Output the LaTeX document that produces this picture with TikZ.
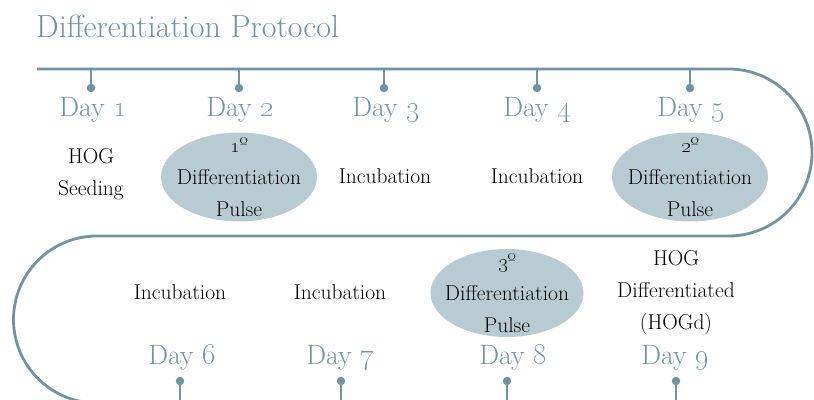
\documentclass[tikz,border=0pt]{standalone}
\usetikzlibrary{shapes.geometric,positioning}
\definecolor{steel}{HTML}{7194A5}
\definecolor{pulsefill}{HTML}{B9CBD2}
\tikzset{
	track/.style={draw=steel, line width=2.8pt},
	stem/.style={draw=steel, line width=2.8pt},
	tickdot/.style={circle, fill=steel, inner sep=0pt, minimum size=8.5pt},
	daylabel/.style={text=steel, font=\fontsize{28}{30}\selectfont},
	stage/.style={align=center, font=\fontsize{21.5}{32}\selectfont, text=black},
	pulse/.style={ellipse, fill=pulsefill, minimum width=156pt, minimum height=89pt, inner sep=0pt},
}
\begin{document}
\begin{tikzpicture}[x=1pt, y=1pt]
		\useasboundingbox (0,0) rectangle (814,399);
		\clip (0,0) rectangle (814,399);
		% Title
		\node[anchor=west, text=steel, font=\fontsize{32}{34}\selectfont, inner sep=0pt] (title) at (36,373) {Differentiation Protocol};
		% Track
		\coordinate (start) at (37,330);
		\coordinate (turnR) at (728.5,330);
		\coordinate (turnL) at (97,163);
		\draw[track] (start) -- (turnR) arc[start angle=90, end angle=-90, radius=83.5] -- (turnL) arc[start angle=90, end angle=270, radius=83.5] -- ++(720,0);
		% Ticks, top row
		\coordinate (t1) at (91,330);
		\coordinate (t2) at (239,330);
		\coordinate (t3) at (384,330);
		\coordinate (t4) at (537,330);
		\coordinate (t5) at (690,330);
		\node[tickdot] (d1) at (91,311) {};
		\node[tickdot] (d2) at (239,311) {};
		\node[tickdot] (d3) at (384,311) {};
		\node[tickdot] (d4) at (537,311) {};
		\node[tickdot] (d5) at (690,311) {};
		\draw[stem] (t1) -- (d1.center);
		\draw[stem] (t2) -- (d2.center);
		\draw[stem] (t3) -- (d3.center);
		\draw[stem] (t4) -- (d4.center);
		\draw[stem] (t5) -- (d5.center);
		% Ticks, bottom row
		\coordinate (t6) at (180,-4);
		\coordinate (t7) at (341,-4);
		\coordinate (t8) at (507,-4);
		\coordinate (t9) at (676,-4);
		\node[tickdot] (d6) at (180,18) {};
		\node[tickdot] (d7) at (341,18) {};
		\node[tickdot] (d8) at (507,18) {};
		\node[tickdot] (d9) at (676,18) {};
		\draw[stem] (t6) -- (d6.center);
		\draw[stem] (t7) -- (d7.center);
		\draw[stem] (t8) -- (d8.center);
		\draw[stem] (t9) -- (d9.center);
		% Day labels
		\node[daylabel] (day1) at (93,289) {Day \oldstylenums{1}};
		\node[daylabel] (day2) at (240,289) {Day \oldstylenums{2}};
		\node[daylabel] (day3) at (386,289) {Day \oldstylenums{3}};
		\node[daylabel] (day4) at (537,289) {Day \oldstylenums{4}};
		\node[daylabel] (day5) at (691,289) {Day \oldstylenums{5}};
		\node[daylabel] (day6) at (182,41) {Day \oldstylenums{6}};
		\node[daylabel] (day7) at (340,41) {Day \oldstylenums{7}};
		\node[daylabel] (day8) at (513,41) {Day \oldstylenums{8}};
		\node[daylabel] (day9) at (675,41) {Day \oldstylenums{9}};
		% Pulses
		\node[pulse] (pulse1) at (239,222) {};
		\node[pulse] (pulse2) at (690,222) {};
		\node[pulse, minimum width=153pt, minimum height=88pt] (pulse3) at (507,106) {};
		% Stages
		\node[stage] (seed) at (91,225) {HOG\\Seeding};
		\node[stage] (step2) at (pulse1) {\oldstylenums{1}º\\Differentiation\\Pulse};
		\node[stage] (inc3) at (385,223) {Incubation};
		\node[stage] (inc4) at (537,223) {Incubation};
		\node[stage] (step5) at (pulse2) {\oldstylenums{2}º\\Differentiation\\Pulse};
		\node[stage] (inc6) at (180,107) {Incubation};
		\node[stage] (inc7) at (340,107) {Incubation};
		\node[stage] (step8) at (pulse3) {\oldstylenums{3}º\\Differentiation\\Pulse};
		\node[stage] (hogd) at (676,106) {HOG\\Differentiated\\(HOGd)};
	\end{tikzpicture}
\end{document}
